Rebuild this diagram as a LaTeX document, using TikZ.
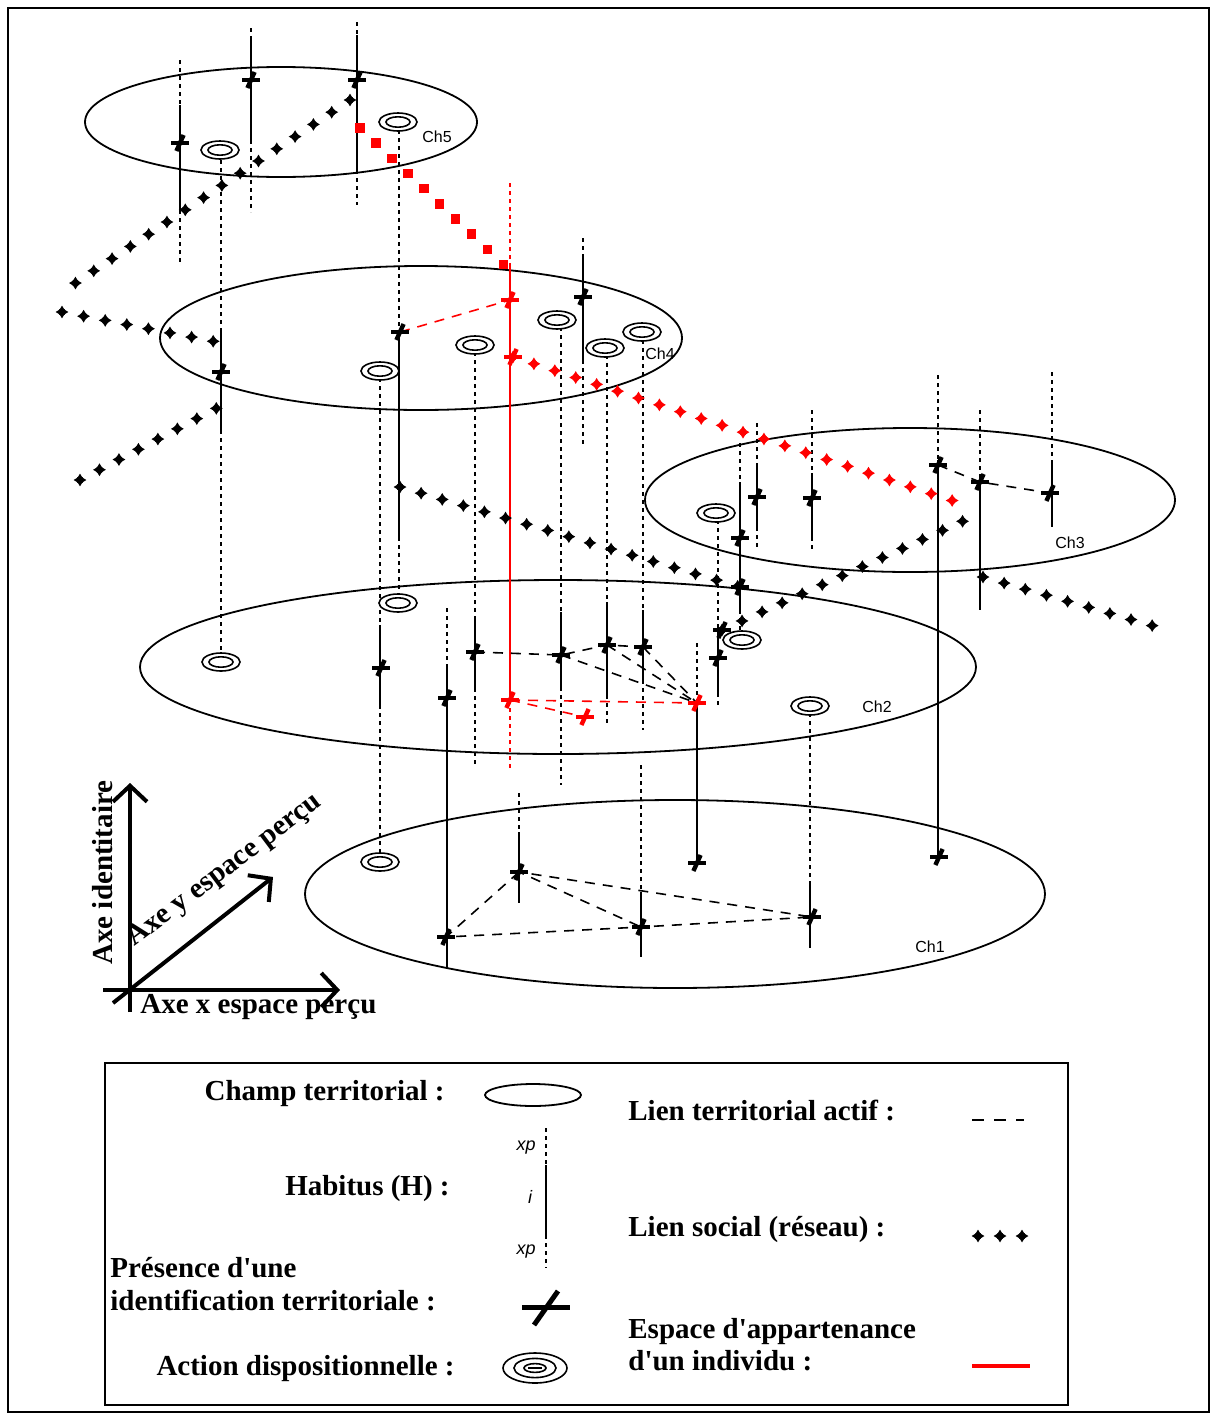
\documentclass[tikz,border=0pt]{standalone}
\usepackage{fontspec}
\setmainfont{Liberation Serif}[Ligatures=TeXOff]
\setsansfont{Liberation Sans}
\usepackage{tikz}
\usetikzlibrary{arrows.meta, shapes.geometric, decorations.markings, positioning}
\definecolor{appred}{HTML}{FF0000}

\begin{document}
\begin{tikzpicture}[x=0.5pt, y=-0.5pt,
  champ/.style={ellipse, draw, line width=0.9pt, inner sep=0pt},
  chlabel/.style={font=\sffamily\fontsize{8}{9}\selectfont, inner sep=0pt},
  hdot/.style={line width=1pt, dash pattern=on 2pt off 2pt},
  hsolid/.style={line width=1pt},
  tdash/.style={line width=0.8pt, dash pattern=on 5pt off 4pt},
  ident/.style={inner sep=0pt, minimum size=13pt, path picture={
      \draw[line width=2.4pt, #1] (path picture bounding box.center) +(-4.5pt,0pt) -- +(4.5pt,0pt);
      \draw[line width=2.2pt, #1] (path picture bounding box.center) +(-1.8pt,-4pt) -- +(1.8pt,4pt);}},
  ident/.default=black,
  action/.style={ellipse, draw, line width=0.8pt, inner sep=0pt, minimum width=19pt,
      minimum height=9pt, fill=white, path picture={
      \draw[line width=0.8pt] (path picture bounding box.center) ellipse [x radius=6pt, y radius=2.6pt];
      \fill (path picture bounding box.center) ellipse [x radius=3.5pt, y radius=1.5pt];}},
  social/.style={decoration={markings, mark=between positions 0 and 1 step 11pt with
      {\pgftransformresetnontranslations
       \fill[#1] (0pt,-3.2pt) -- (1.2pt,-1.2pt) -- (3.2pt,0pt) -- (1.2pt,1.2pt) -- (0pt,3.2pt)
         -- (-1.2pt,1.2pt) -- (-3.2pt,0pt) -- (-1.2pt,-1.2pt) -- cycle;
       \fill[#1] (0pt,0pt) circle (1.9pt);}}, decorate},
  social/.default=black,
  socsq/.style={decoration={markings, mark=between positions 0 and 1 step 11pt with
      {\pgftransformresetnontranslations
       \fill[#1] (-2.4pt,-2.4pt) rectangle (2.4pt,2.4pt);}}, decorate},
  socsq/.default=black,
  axis/.style={line width=2pt, -{Straight Barb[length=8pt, width=17pt]}},
  lbl/.style={font=\fontsize{14.5}{17}\selectfont\bfseries, inner sep=0pt}]

  \useasboundingbox (0,0) rectangle (1211,1414);
  \draw[line width=1pt] (8,8) rectangle (1209,1412);

  % Champs territoriaux
  \node[champ, minimum width=196pt, minimum height=55pt] (ch5) at (281,122) {};
  \node[champ, minimum width=261pt, minimum height=72pt] (ch4) at (421,338) {};
  \node[champ, minimum width=265pt, minimum height=72pt] (ch3) at (910,500) {};
  \node[champ, minimum width=418pt, minimum height=87pt] (ch2) at (558,667) {};
  \node[champ, minimum width=370pt, minimum height=94pt] (ch1) at (675,894) {};
  \node[chlabel] (lch5) at (437,137) {Ch5};
  \node[chlabel] (lch4) at (660,354) {Ch4};
  \node[chlabel] (lch3) at (1070,543) {Ch3};
  \node[chlabel] (lch2) at (877,707) {Ch2};
  \node[chlabel] (lch1) at (930,947) {Ch1};

  % Habitus (x / debut / solide / fin solide / fin)
  \foreach \x/\a/\b/\c/\d in {180/60/105/210/265, 251/28/38/140/212, 357/22/35/170/205,
      221/160/328/430/655, 399/130/330/537/597, 583/238/255/360/445, 475/352/620/688/765,
      561/327/612/687/785, 607/355/602/695/725, 643/340/610/680/730, 718/520/625/693/705,
      740/443/482/610/632, 757/423/467/527/550, 812/410/473/537/550, 938/375/460/857/857,
      980/410/477/610/610, 1052/372/460/527/527, 380/378/625/705/853, 447/608/667/968/968,
      697/643/700/862/862, 519/793/832/903/903, 641/765/892/957/957, 810/713/883/948/948} {
    \draw[hdot] (\x,\a) -- (\x,\b);
    \draw[hsolid] (\x,\b) -- (\x,\c);
    \draw[hdot] (\x,\c) -- (\x,\d);
  }
  % Espace d'appartenance
  \draw[hdot, appred] (510,183) -- (510,265);
  \draw[hsolid, appred] (510,265) -- (510,700);
  \draw[hdot, appred] (510,700) -- (510,770);

  % Identifications territoriales
  \coordinate (a1) at (180,143);
  \coordinate (a2) at (251,80);
  \coordinate (a3) at (357,80);
  \coordinate (b1) at (221,372);
  \coordinate (b2) at (400,332);
  \coordinate (b3) at (583,297);
  \coordinate (c1) at (740,538);
  \coordinate (c2) at (740,587);
  \coordinate (c3) at (757,497);
  \coordinate (c4) at (812,498);
  \coordinate (c5) at (938,465);
  \coordinate (c6) at (980,482);
  \coordinate (c7) at (1050,493);
  \coordinate (c8) at (722,630);
  \coordinate (c9) at (718,658);
  \coordinate (d1) at (475,652);
  \coordinate (d2) at (561,655);
  \coordinate (d3) at (607,645);
  \coordinate (d4) at (643,647);
  \coordinate (d5) at (381,668);
  \coordinate (d6) at (447,698);
  \coordinate (e1) at (446,937);
  \coordinate (e2) at (519,872);
  \coordinate (e3) at (641,927);
  \coordinate (e4) at (697,863);
  \coordinate (e5) at (812,917);
  \coordinate (e6) at (939,857);
  \coordinate (r1) at (510,300);
  \coordinate (r2) at (513,357);
  \coordinate (r3) at (510,700);
  \coordinate (r4) at (697,703);
  \coordinate (r5) at (585,717);

  % Liens territoriaux actifs
  \draw[tdash] (d1) -- (d2) -- (d3) -- (d4);
  \draw[tdash] (d2) -- (r4) (d3) -- (r4) (d4) -- (r4);
  \draw[tdash] (c5) -- (c6) -- (c7);
  \draw[tdash] (e2) -- (e1) -- (e3) -- (e5) -- (e2) -- (e3);
  \draw[tdash, appred] (b2) -- (r1);
  \draw[tdash, appred] (r3) -- (r4) (r3) -- (r5);

  % Liens sociaux
  \coordinate (s1a) at (350,100);
  \coordinate (s1b) at (65,290);
  \coordinate (s2a) at (62,312);
  \coordinate (s2b) at (217,342);
  \coordinate (s3a) at (80,480);
  \coordinate (s3b) at (217,408);
  \coordinate (s4a) at (400,487);
  \coordinate (s5b) at (972,517);
  \coordinate (s6a) at (983,577);
  \coordinate (s6b) at (1157,627);
  \coordinate (s7a) at (360,128);
  \coordinate (s7b) at (507,268);
  \coordinate (s8b) at (972,507);
  \path[social] (s1a) -- (s1b);
  \path[social] (s2a) -- (s2b);
  \path[social] (s3a) -- (s3b);
  \path[social] (s4a) -- (c2);
  \path[social] (c8) -- (s5b);
  \path[social] (s6a) -- (s6b);
  \path[socsq=appred] (s7a) -- (s7b);
  \path[social=appred] (r2) -- (s8b);

  % Actions dispositionnelles
  \node[action] (act1) at (220,150) {};
  \node[action] (act2) at (398,122) {};
  \node[action] (act3) at (380,371) {};
  \node[action] (act4) at (475,345) {};
  \node[action] (act5) at (557,320) {};
  \node[action] (act6) at (605,348) {};
  \node[action] (act7) at (642,332) {};
  \node[action] (act8) at (716,513) {};
  \node[action] (act9) at (221,662) {};
  \node[action] (act10) at (398,603) {};
  \node[action] (act11) at (742,640) {};
  \node[action] (act12) at (810,706) {};
  \node[action] (act13) at (380,862) {};

  \foreach \n in {a1,a2,a3,b1,b2,b3,c1,c2,c3,c4,c5,c6,c7,c8,c9,d1,d2,d3,d4,d5,d6,e1,e2,e3,e4,e5,e6}
    \node[ident] (\n m) at (\n) {};
  \foreach \n in {r1,r2,r3,r4,r5}
    \node[ident=appred] (\n m) at (\n) {};

  % Axes
  \coordinate (zb) at (130,1012);
  \coordinate (zt) at (130,783);
  \coordinate (xb) at (103,990);
  \coordinate (xt) at (340,990);
  \coordinate (yb) at (113,1003);
  \coordinate (yt) at (273,877);
  \draw[axis] (zb) -- (zt);
  \draw[axis] (xb) -- (xt);
  \draw[axis] (yb) -- (yt);
  \node[lbl, rotate=90, anchor=base west] (zlab) at (112,965) {Axe identitaire};
  \node[lbl, rotate=37, anchor=base west] (ylab) at (134,947) {Axe y espace perçu};
  \node[lbl, anchor=base west] (xlab) at (140,1013) {Axe x espace perçu};

  % Legende
  \node[draw, line width=1pt, minimum width=481.5pt, minimum height=171pt, inner sep=0pt] (legend) at (586.5,1234) {};
  \node[lbl, anchor=base east] (tchamp) at (445,1100) {Champ territorial :};
  \node[champ, minimum width=48pt, minimum height=11pt] (kchamp) at (533,1095) {};
  \node[lbl, anchor=base east] (thab) at (450,1195) {Habitus (H) :};
  \draw[hdot] (546,1128) -- (546,1165);
  \draw[hsolid] (546,1165) -- (546,1235);
  \draw[hdot] (546,1235) -- (546,1268);
  \node[font=\sffamily\itshape\fontsize{9}{10}\selectfont] (kxp1) at (526,1148) {xp};
  \node[font=\sffamily\itshape\fontsize{9}{10}\selectfont] (ki) at (530,1197) {i};
  \node[font=\sffamily\itshape\fontsize{9}{10}\selectfont] (kxp2) at (526,1252) {xp};
  \node[lbl, anchor=base west] (tpres) at (110,1277) {Présence d'une};
  \node[lbl, anchor=base west] (tident) at (110,1310) {identification territoriale :};
  \coordinate (kid) at (546,1307);
  \draw[line width=2.5pt] (kid) +(-12pt,0pt) -- +(12pt,0pt);
  \draw[line width=2.5pt] (kid) +(-6pt,-9pt) -- +(6pt,8pt);
  \node[lbl, anchor=base east] (tact) at (455,1375) {Action dispositionnelle :};
  \node[ellipse, draw, line width=0.8pt, minimum width=32pt, minimum height=15pt, inner sep=0pt] (kact) at (535,1368) {};
  \draw[line width=0.8pt] (kact.center) ellipse [x radius=10.5pt, y radius=4.8pt];
  \draw[line width=0.8pt] (kact.center) ellipse [x radius=5.5pt, y radius=2.2pt];
  \draw[line width=0.8pt] (kact.center) +(-3.5pt,0pt) -- +(3.5pt,0pt);
  \node[lbl, anchor=base west] (tlien) at (628,1120) {Lien territorial actif :};
  \coordinate (kd1) at (972,1120);
  \coordinate (kd2) at (1024,1120);
  \draw[line width=1pt, dash pattern=on 6pt off 5pt] (kd1) -- (kd2);
  \node[lbl, anchor=base west] (tsoc) at (628,1236) {Lien social (réseau) :};
  \coordinate (ks1) at (978,1236);
  \coordinate (ks2) at (1024,1236);
  \path[social] (ks1) -- (ks2);
  \node[lbl, anchor=base west] (tesp) at (628,1338) {Espace d'appartenance};
  \node[lbl, anchor=base west] (tind) at (628,1370) {d'un individu :};
  \coordinate (kr1) at (972,1366);
  \coordinate (kr2) at (1030,1366);
  \draw[appred, line width=2pt] (kr1) -- (kr2);
\end{tikzpicture}
\end{document}
